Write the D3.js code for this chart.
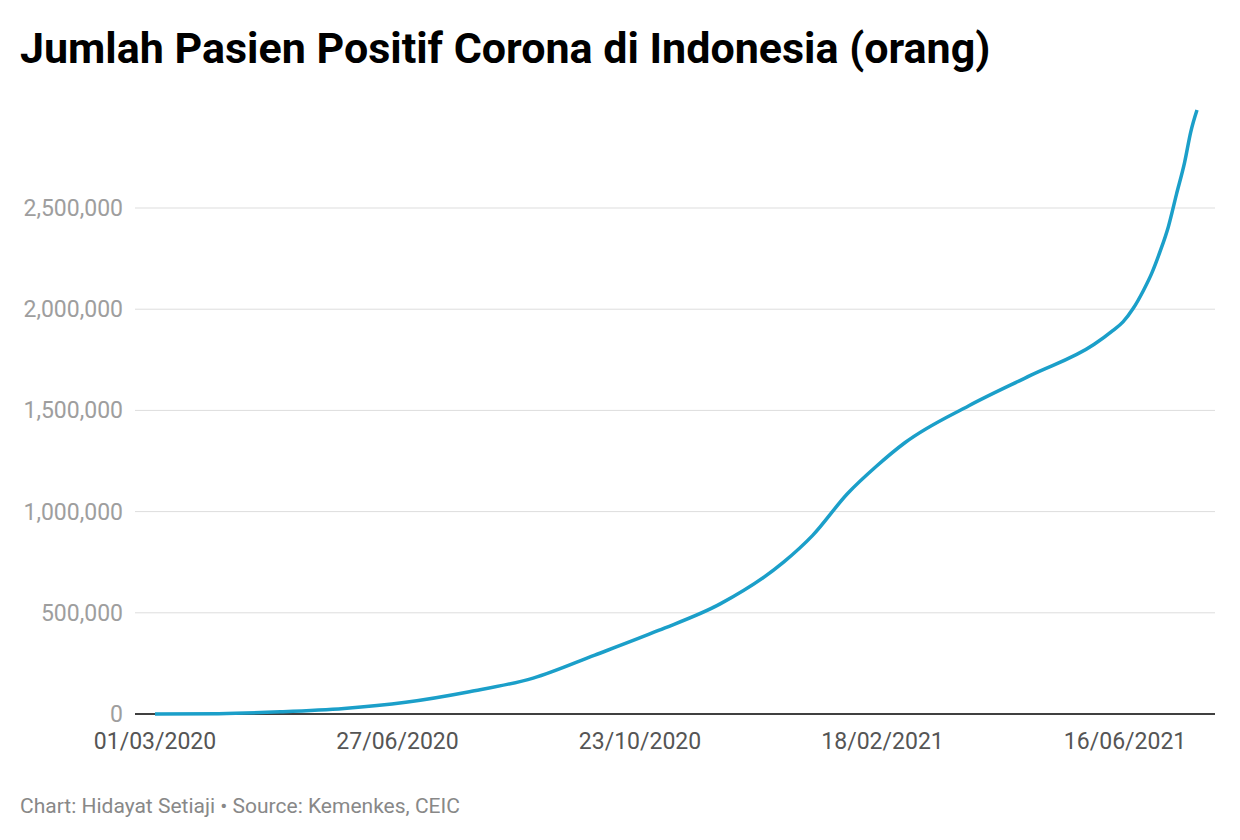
<!DOCTYPE html>
<html>
<head>
<meta charset="utf-8">
<script src="https://d3js.org/d3.v7.min.js"></script>
<style>
  body { margin: 0; background: white; font-family: Roboto, sans-serif; }
</style>
</head>
<body>
<svg id="chart" width="1240" height="840"></svg>
<script>
// data (date, cumulative positive cases)
const dates = ["2020-03-01","2020-04-01","2020-05-01","2020-06-01","2020-07-01","2020-08-01",
  "2020-09-01","2020-10-01","2020-11-01","2020-12-01","2021-01-01","2021-01-15","2021-02-01",
  "2021-02-15","2021-03-01","2021-04-01","2021-05-01","2021-06-01","2021-06-10","2021-06-15",
  "2021-06-20","2021-06-25","2021-06-29","2021-07-03","2021-07-07","2021-07-11","2021-07-15",
  "2021-07-18","2021-07-21"];
const cases = [0,1677,10551,26940,57770,109936,177571,291182,412784,543975,751270,882418,1089308,
  1223930,1341314,1523179,1672880,1826527,1894025,1937652,2004445,2093962,2178272,2284084,
  2405360,2567630,2726803,2877476,2983830];
const yTicks = [0,500000,1000000,1500000,2000000,2500000];
const xTicks = ["2020-03-01","2020-06-27","2020-10-23","2021-02-18","2021-06-16"];

const parse = d3.timeParse("%Y-%m-%d");
const data = dates.map((d,i) => ({date: parse(d), value: cases[i]}));

let svg = d3.select("svg#chart");

svg.append("text").text("Jumlah Pasien Positif Corona di Indonesia (orang)")
  .attr("x", 20).attr("y", 63)
  .style("font-size", "43px").style("font-weight", "bold").style("fill", "#000");

let x = d3.scaleTime().domain([parse("2020-03-01"), parse("2021-07-21")]).range([155, 1197]);
let y = d3.scaleLinear().domain([0, 2500000]).range([714, 208]);

yTicks.forEach(t => {
  svg.append("line").attr("x1", 135).attr("x2", 1215).attr("y1", y(t)).attr("y2", y(t))
    .style("stroke", t == 0 ? "#000" : "#dddddd").style("stroke-width", t == 0 ? 1.5 : 1);
  svg.append("text").text(d3.format(",")(t))
    .attr("x", 123).attr("y", y(t) + 8).style("text-anchor", "end")
    .style("font-size", "23px").style("fill", "#9e9e9e");
});

xTicks.forEach(t => {
  let d = parse(t);
  svg.append("text").text(d3.timeFormat("%d/%m/%Y")(d))
    .attr("x", x(d)).attr("y", 749).style("text-anchor", "middle")
    .style("font-size", "23px").style("fill", "#555");
});

let line = d3.line().x(d => x(d.date)).y(d => y(d.value)).curve(d3.curveMonotoneX);
svg.append("path").datum(data).attr("d", line)
  .style("fill", "none").style("stroke", "#1b9fc9").style("stroke-width", 3.5);

svg.append("text").text("Chart: Hidayat Setiaji • Source: Kemenkes, CEIC")
  .attr("x", 20).attr("y", 813).style("font-size", "21px").style("fill", "#888");
</script>
</body>
</html>
